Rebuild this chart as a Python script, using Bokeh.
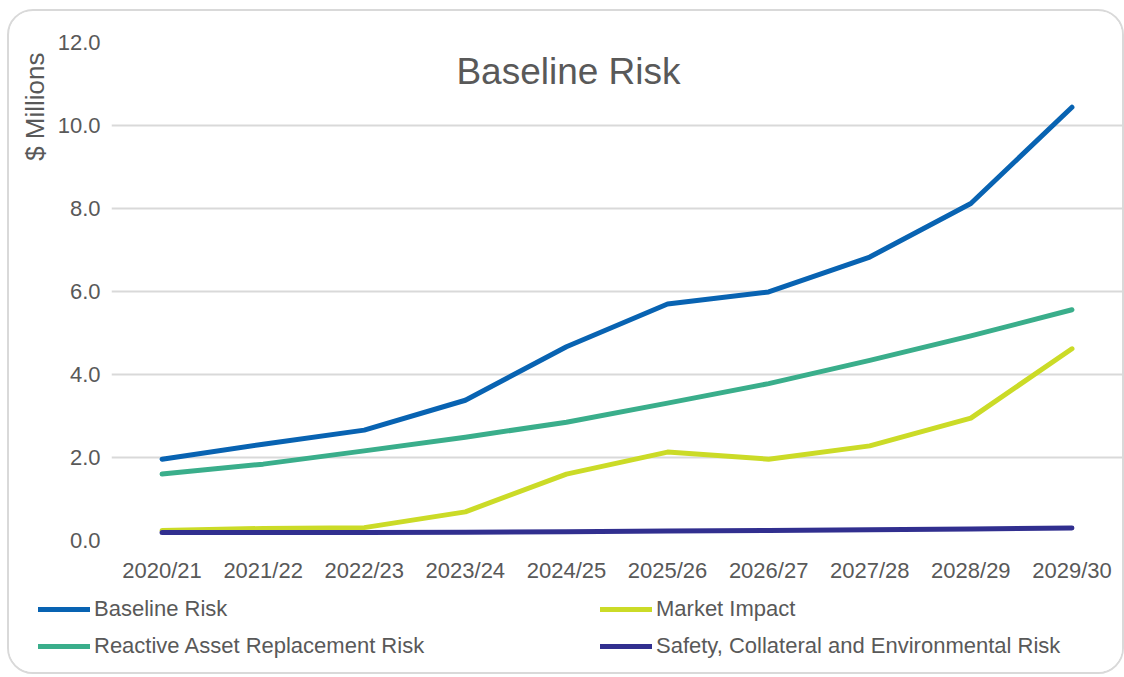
from bokeh.plotting import figure
from bokeh.layouts import column
from bokeh.models import Range1d, FactorRange, Legend, LegendItem, Label, Title
from bokeh.embed import file_html
from bokeh.resources import INLINE

years = ["2020/21", "2021/22", "2022/23", "2023/24", "2024/25",
         "2025/26", "2026/27", "2027/28", "2028/29", "2029/30"]
baseline_risk = [1.96, 2.32, 2.66, 3.38, 4.67, 5.70, 5.99, 6.83, 8.12, 10.44]
reactive_asset = [1.60, 1.84, 2.16, 2.49, 2.85, 3.31, 3.78, 4.34, 4.93, 5.56]
market_impact = [0.24, 0.29, 0.31, 0.69, 1.60, 2.13, 1.96, 2.28, 2.95, 4.62]
safety_env = [0.19, 0.19, 0.19, 0.20, 0.21, 0.23, 0.24, 0.26, 0.28, 0.30]
y_ticks = [0, 2, 4, 6, 8, 10, 12]

FONT = "Liberation Sans"
TXT = "#595959"

series = [
    ("Baseline Risk", baseline_risk, "#0863B2"),
    ("Reactive Asset Replacement Risk", reactive_asset, "#3AAE8B"),
    ("Market Impact", market_impact, "#CBDB27"),
    ("Safety, Collateral and Environmental Risk", safety_env, "#312F8F"),
]

# main chart
p = figure(width=1113, height=574, x_range=FactorRange(*years), y_range=Range1d(0, 12),
           output_backend="svg", toolbar_location=None,
           min_border_left=102, min_border_right=0, min_border_top=31, min_border_bottom=42)
p.outline_line_color = None
p.background_fill_color = "white"
p.border_fill_color = "white"
p.xgrid.grid_line_color = None
p.ygrid.grid_line_color = "#d9d9d9"
p.ygrid.grid_line_width = 2
p.yaxis.ticker = y_ticks
p.yaxis.major_label_overrides = {t: f"{t:.1f}" for t in y_ticks}
for ax in (p.xaxis[0], p.yaxis[0]):
    ax.axis_line_color = None
    ax.major_tick_line_color = None
    ax.minor_tick_line_color = None
    ax.major_label_text_font = FONT
    ax.major_label_text_font_size = "22px"
    ax.major_label_text_color = TXT
p.yaxis.major_label_standoff = 5
p.xaxis.major_label_standoff = 11

for name, vals, col in series:
    p.line(years, vals, line_color=col, line_width=5, line_cap="round", line_join="round")

p.add_layout(Title(text="$ Millions", align="right", offset=10, text_font=FONT,
                   text_font_size="26px", text_font_style="normal",
                   text_color=TXT), "left")
p.add_layout(Label(x=4.52, y=11.3, text="Baseline Risk", text_align="center",
                   text_baseline="middle", text_font=FONT, text_font_size="37px",
                   text_color=TXT))

# legend strip (its lines lie outside its visible y range; only the legend shows)
q = figure(width=1113, height=87, x_range=p.x_range, y_range=Range1d(100, 101),
           output_backend="svg", toolbar_location=None,
           x_axis_location=None, y_axis_location=None,
           min_border_left=0, min_border_right=0, min_border_top=0, min_border_bottom=0)
q.frame_align = False
q.outline_line_color = None
q.grid.grid_line_color = None
q.background_fill_color = "white"
q.border_fill_color = "white"
rend = {}
for name, vals, col in series:
    rend[name] = q.line(years, vals, line_color=col, line_width=5, line_cap="round")

order = ["Baseline Risk", "Reactive Asset Replacement Risk", "Market Impact",
         "Safety, Collateral and Environmental Risk"]
legend = Legend(items=[LegendItem(label=n, renderers=[rend[n]]) for n in order],
                location=(29, 13), ncols=2)
legend.label_text_font = FONT
legend.label_text_font_size = "22px"
legend.label_text_color = TXT
legend.glyph_width = 52
legend.label_standoff = 4
legend.label_width = 495
legend.label_height = 24
legend.spacing = 11
legend.padding = 0
legend.margin = 0
legend.border_line_color = None
legend.background_fill_alpha = 0
q.add_layout(legend, "center")

layout = column(p, q, spacing=0)
layout.margin = (9, 0, 0, 7)
layout.styles = {"border": "2px solid #d9d9d9", "border-radius": "26px",
                 "overflow": "hidden", "background-color": "white"}

open("out.html", "w").write(file_html(layout, INLINE))
